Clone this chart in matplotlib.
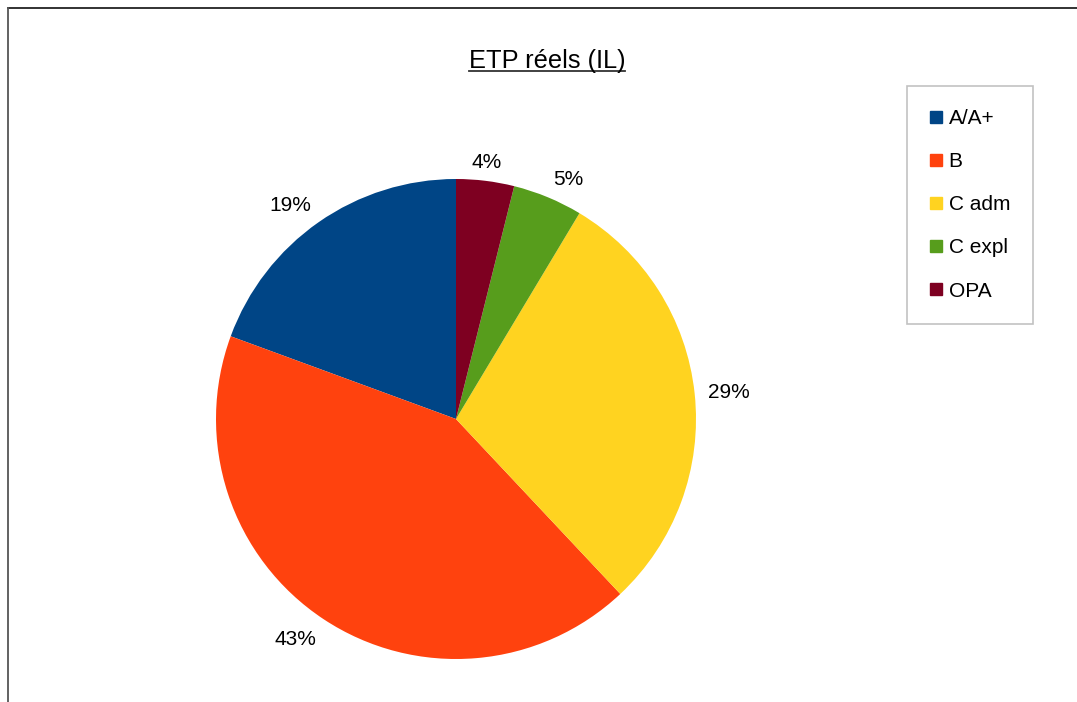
"""Pie chart: ETP réels (IL)."""

import numpy as np
import matplotlib.pyplot as plt
from matplotlib.lines import Line2D

categories = ["A/A+", "B", "C adm", "C expl", "OPA"]
shares = [19.4, 42.6, 29.4, 4.7, 3.9]
colors = ["#004586", "#ff420e", "#ffd320", "#579d1c", "#7e0021"]

plt.rcParams["font.family"] = ["Liberation Sans", "DejaVu Sans"]

W, H = 1077, 702
fig = plt.figure(figsize=(W / 100, H / 100), dpi=100)

# pie centre (456, 419) px, radius 240 px
cx, cy, r = 456, 419, 240
ax = fig.add_axes([(cx - r) / W, (H - cy - r) / H, 2 * r / W, 2 * r / H])
pct_labels = [f"{v:.0f}%" for v in shares]
wedges, texts = ax.pie(
    shares,
    colors=colors,
    startangle=90,
    counterclock=True,
    radius=1.0,
    labels=pct_labels,
    labeldistance=1.055,
    textprops={"fontsize": 15, "color": "black"},
    wedgeprops={"linewidth": 0},
)
# align each label away from the pie, like the office chart does
for t in texts:
    x, y = t.get_position()
    ang = np.arctan2(y, x)
    c, s = np.cos(ang), np.sin(ang)
    t.set_ha("center" if abs(c) < 0.2 else ("left" if c > 0 else "right"))
    t.set_va("baseline" if s > 0.5 else ("top" if s < -0.5 else "center"))
ax.set_xlim(-1, 1)
ax.set_ylim(-1, 1)
ax.set_aspect("equal")
ax.axis("off")

# title with underline
title = fig.text(547 / W, 1 - 68 / H, "ETP réels (IL)", ha="center", va="baseline",
                 fontsize=18.3, color="black")
fig.canvas.draw()
bb = title.get_window_extent().transformed(fig.transFigure.inverted())
uy = 1 - 71 / H
fig.add_artist(Line2D([bb.x0, bb.x1], [uy, uy], transform=fig.transFigure,
                      color="#333333", lw=1.3))

# legend
handles = [Line2D([], [], marker="s", ls="none", markersize=8.5, color=c) for c in colors]
leg = fig.legend(handles, categories, loc="upper left",
                 bbox_to_anchor=(907 / W, 1 - 86 / H), bbox_transform=fig.transFigure,
                 borderaxespad=0, fontsize=15, frameon=True, fancybox=False,
                 edgecolor="#b3b3b3", borderpad=1.1, labelspacing=1.16,
                 handlelength=0.6, handletextpad=0.3)
leg.get_frame().set_linewidth(1.2)

# outer frame (top and left edges visible)
fig.add_artist(Line2D([8 / W, 1.0], [1 - 8 / H, 1 - 8 / H], transform=fig.transFigure,
                      color="#222222", lw=1.3))
fig.add_artist(Line2D([8 / W, 8 / W], [0, 1 - 8 / H], transform=fig.transFigure,
                      color="#555555", lw=1.3))

fig.savefig("out.png", dpi=100, facecolor="white")
